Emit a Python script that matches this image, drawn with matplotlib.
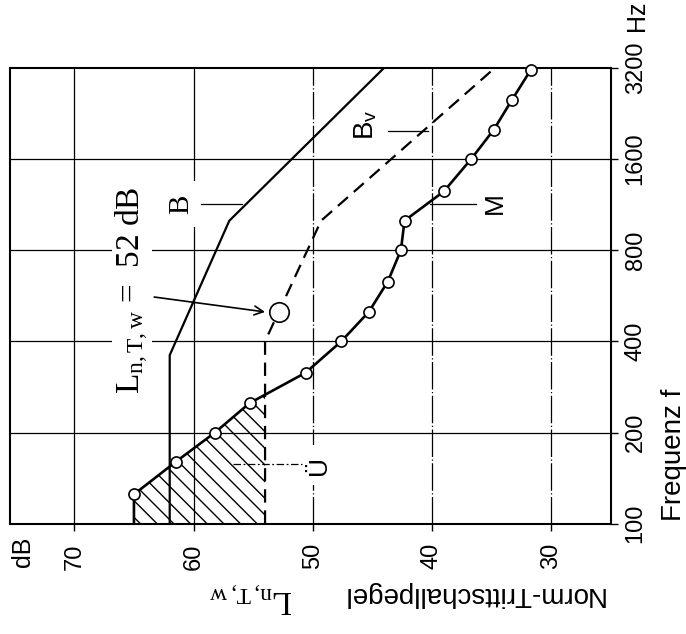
import numpy as np
import matplotlib
matplotlib.use('Agg')
import matplotlib.pyplot as plt
from matplotlib.ticker import NullLocator

plt.rcParams['mathtext.fontset'] = 'custom'
plt.rcParams['mathtext.rm'] = 'Liberation Serif'
plt.rcParams['mathtext.it'] = 'Liberation Serif:italic'
plt.rcParams['mathtext.sf'] = 'Liberation Sans'
plt.rcParams['hatch.linewidth'] = 1.0

# ---------------- data ----------------
freq_ticks = [100, 200, 400, 800, 1600, 3200]
freq_labels = ['100', '200', '400', '800', '1600', '3200']
level_ticks = [70, 60, 50, 40, 30]
level_labels = ['70', '60', '50', '40', '30']

# measured curve M (third-octave bands)
m_freq = [100, 125, 160, 200, 250, 315, 400, 500, 630, 800, 1000, 1250, 1600, 2000, 2500, 3150]
m_level = [65.0, 65.0, 61.5, 58.2, 55.3, 50.6, 47.6, 45.3, 43.7, 42.6, 42.3, 39.0, 36.7, 34.8, 33.3, 31.7]

# reference curve B
b_freq = [100, 360, 1000, 3200]
b_level = [62, 62, 57, 44]

# shifted reference curve Bv
bv_freq = [100, 400, 1000, 3200]
bv_level = [54, 54, 49.3, 34.7]

# weighted value point
lw_freq = 500
lw_level = 52.8

num_font = ['Liberation Sans', 'DejaVu Sans']
word_font = ['Liberation Sans', 'DejaVu Sans']
serif_font = ['Liberation Serif', 'DejaVu Serif']

# ---------------- figure ----------------
fig = plt.figure(figsize=(6.86, 6.34), dpi=100)
ax = fig.add_axes([10 / 686, 1 - 523.7 / 634, 600.7 / 686, 456 / 634])

ax.set_yscale('log', base=2)
ax.set_ylim(100, 3200)
ax.set_xlim(75.4, 25.0)

# grid
for f in freq_ticks[1:-1]:
    ax.axhline(f, color='black', lw=0.9, zorder=1)
for L in level_ticks:
    if L >= 60:
        ax.axvline(L, color='black', lw=0.9, zorder=1)
    else:
        ax.axvline(L, color='black', lw=0.9, zorder=1, dashes=(22, 2, 1, 2))

# hatched area Ü
mf = np.array(m_freq, float)
ml = np.array(m_level, float)
bv_at_m = np.interp(np.log(mf), np.log(bv_freq), bv_level)
ax.fill_betweenx(mf, ml, bv_at_m, where=ml >= bv_at_m, interpolate=True,
                 facecolor='none', edgecolor='black', hatch='\\\\', linewidth=0, zorder=2)

# curves
ax.plot(b_level, b_freq, color='black', lw=1.6, zorder=3, solid_joinstyle='miter')
ax.plot(bv_level, bv_freq, color='black', lw=1.6, zorder=3, dashes=(6, 3.5))
ax.plot(m_level, m_freq, color='black', lw=1.9, zorder=4, marker='o',
        markevery=list(range(1, len(m_freq))), markersize=8, markerfacecolor='white',
        markeredgecolor='black', markeredgewidth=1.2, clip_on=False)
ax.plot([lw_level], [lw_freq], marker='o', markersize=14, markerfacecolor='white',
        markeredgecolor='black', markeredgewidth=1.2, zorder=5)

# arrow to the weighted value
ax.annotate('', xy=(54.0, 500), xytext=(63.3, 560),
            arrowprops=dict(arrowstyle='->', lw=1.2, color='black',
                            mutation_scale=16, shrinkA=0, shrinkB=0), zorder=6)

# annotation text L_n,T,w = 52 dB
ax.text(64.5, 268, r'$\mathrm{L_{n,T,w}}$ =  52 dB', rotation=90, rotation_mode='anchor',
        ha='left', va='baseline', fontsize=24, family=serif_font, zorder=5,
        bbox=dict(facecolor='white', edgecolor='none', pad=1))

# curve labels with leader lines
ax.text(61.0, 1136, 'B', rotation=90, ha='center', va='center', fontsize=21,
        family=serif_font, zorder=5,
        bbox=dict(boxstyle='square,pad=0.45', facecolor='white', edgecolor='none'))
ax.plot([59.4, 55.9], [1136, 1136], color='black', lw=0.9, zorder=6)

ax.text(45.6, 2070, r'$\mathsf{B}_{\mathsf{v}}$', rotation=90, ha='center', va='center',
        fontsize=20, family=word_font, zorder=5)
ax.plot([43.7, 40.3], [1978, 1978], color='black', lw=0.9, zorder=6)

ax.text(34.7, 1140, 'M', rotation=90, ha='center', va='center', fontsize=19,
        family=word_font, zorder=5)
ax.plot([40.2, 36.3], [1140, 1140], color='black', lw=0.9, zorder=6)

ax.text(49.5, 156, 'Ü', rotation=90, ha='center', va='center', fontsize=19,
        family=word_font, zorder=5,
        bbox=dict(boxstyle='square,pad=0.4', facecolor='white', edgecolor='none'))
ax.plot([56.7, 50.9], [157, 157], color='black', lw=0.9, zorder=6, dashes=(6, 2, 1.5, 2))

# axes / ticks
for s in ax.spines.values():
    s.set_linewidth(1.5)
ax.yaxis.tick_right()
ax.set_yticks(freq_ticks)
ax.set_yticklabels(freq_labels)
ax.yaxis.set_minor_locator(NullLocator())
ax.set_xticks(level_ticks)
ax.set_xticklabels(level_labels)
ax.tick_params(direction='out', length=5, width=1)
ax.tick_params(axis='x', pad=9)
ax.tick_params(axis='y', pad=5)
for lab in ax.get_yticklabels():
    lab.set_rotation(90)
    lab.set_va('center')
    lab.set_ha('left')
    lab.set_fontsize(17)
    lab.set_family(num_font)
for lab in ax.get_xticklabels():
    lab.set_rotation(90)
    lab.set_va('top')
    lab.set_ha('center')
    lab.set_fontsize(17)
    lab.set_family(num_font)

# outer labels
fig.text(637 / 686, 1 - 16 / 634, 'Hz', rotation=90, ha='center', va='center',
         fontsize=18, family=word_font)
fig.text(674 / 686, 1 - 455 / 634, 'Frequenz f', rotation=90, ha='center', va='center',
         fontsize=20, family=word_font)
fig.text(23 / 686, 1 - 552 / 634, 'dB', rotation=90, ha='center', va='center',
         fontsize=18, family=word_font)
fig.text(473 / 686, 1 - 594 / 634, 'Norm-Trittschallpegel', rotation=180, ha='center',
         va='center', fontsize=20, family=word_font)
fig.text(251 / 686, 1 - 597 / 634, r'$\mathrm{L_{n,T,w}}$', rotation=180, ha='center',
         va='center', fontsize=24, family=serif_font)

fig.savefig('out.png', dpi=100, facecolor='white')
